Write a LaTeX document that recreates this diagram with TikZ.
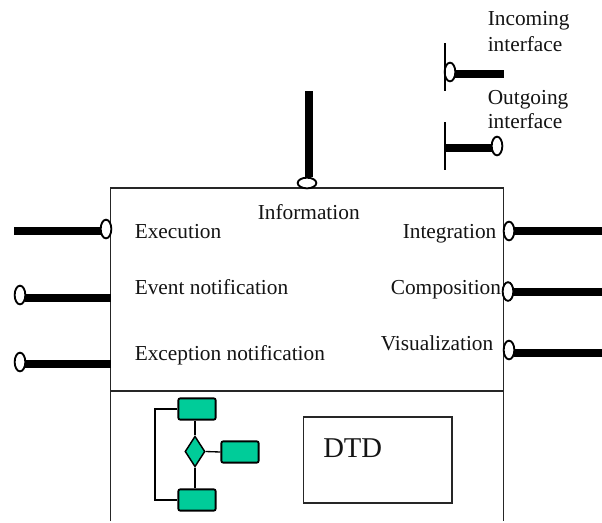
\documentclass[tikz,border=0pt]{standalone}
\usepackage{fontspec}
\setmainfont{Liberation Serif}
\usetikzlibrary{shapes.geometric}
\tikzset{
  x=0.75pt,y=-0.75pt,
  lbl/.style={inner sep=0pt,anchor=base west,font=\fontsize{16pt}{18pt}\selectfont,text=black!92},
  port/.style={draw=black,line width=1.4pt,fill=white,ellipse,inner sep=0pt,minimum width=8pt,minimum height=14pt},
  porth/.style={port,minimum width=14pt,minimum height=8pt},
  bar/.style={line width=5.4pt},
  thin box/.style={draw=black!85,line width=1pt},
  flowbox/.style={draw=black,line width=1.4pt,fill=flowgreen,rounded corners=1.5pt,minimum width=28pt,minimum height=16pt,inner sep=0pt},
  flowdia/.style={draw=black,line width=1.1pt,fill=flowgreen,diamond,aspect=0.66,inner sep=0pt,minimum width=15pt,minimum height=23pt},
  flowline/.style={draw=black,line width=1pt}
}
\definecolor{flowgreen}{RGB}{0,204,153}
\begin{document}
\begin{tikzpicture}
\useasboundingbox (0,0) rectangle (602,522);
\fill[white] (0,0) rectangle (602,522);
% main frame
\coordinate (tl) at (110.5,188);
\coordinate (tr) at (503.5,188);
\coordinate (bl) at (110.5,521);
\coordinate (br) at (503.5,521);
\coordinate (dl) at (110.5,391);
\coordinate (dr) at (503.5,391);
\draw[thin box] (bl) -- (tl) -- (tr) -- (br);
\draw[thin box] (dl) -- (dr);
% ends of bars
\coordinate (topend) at (309,91);
\coordinate (topjoin) at (309,183);
\coordinate (exend) at (14,231);
\coordinate (evend) at (110.5,298);
\coordinate (xcend) at (110.5,364);
\coordinate (inend) at (602,231);
\coordinate (coend) at (602,292);
\coordinate (viend) at (602,353);
\coordinate (lg1end) at (504,74);
\coordinate (lg2end) at (445,148);
\coordinate (lg1a) at (445,43);
\coordinate (lg1b) at (445,91);
\coordinate (lg2a) at (445,122);
\coordinate (lg2b) at (445,170);
% ports
\node[porth] (ptop) at (307,183) {};
\node[port] (pex) at (106,229) {};
\node[port] (pev) at (20,295) {};
\node[port] (pxc) at (20,362) {};
\node[port] (pin) at (509,231) {};
\node[port] (pco) at (508,291.5) {};
\node[port] (pvi) at (509,350) {};
\node[port] (plg1) at (450,72) {};
\node[port] (plg2) at (497,146) {};
% bars
\draw[bar] (topend) -- (topjoin |- ptop.north);
\draw[bar,shorten >=-1pt] (exend) -- (exend -| pex.west);
\draw[bar,shorten <=-1pt] (pev.east |- evend) -- (evend);
\draw[bar,shorten <=-1pt] (pxc.east |- xcend) -- (xcend);
\draw[bar,shorten <=-1pt] (pin.east |- inend) -- (inend);
\draw[bar,shorten <=-1pt] (pco.east |- coend) -- (coend);
\draw[bar,shorten <=-1pt] (pvi.east |- viend) -- (viend);
\draw[bar,shorten <=-1pt] (plg1.east |- lg1end) -- (lg1end);
\draw[bar,shorten >=-1pt] (lg2end) -- (lg2end -| plg2.west);
\draw[line width=1.1pt] (lg1a) -- (lg1b);
\draw[line width=1.1pt] (lg2a) -- (lg2b);
% labels
\node[lbl] (tinfo) at (257.5,219) {Information};
\node[lbl] (texec) at (134.5,238) {Execution};
\node[lbl] (tevent) at (134.5,294) {Event notification};
\node[lbl] (texc) at (134.5,360) {Exception notification};
\node[lbl] (tint) at (402.5,238) {Integration};
\node[lbl] (tcomp) at (390.5,294) {Composition};
\node[lbl] (tvis) at (380.5,350) {Visualization};
\node[lbl] (tinc1) at (487.5,25.5) {Incoming};
\node[lbl] (tinc2) at (487.5,51) {interface};
\node[lbl] (tout1) at (487.5,104) {Outgoing};
\node[lbl] (tout2) at (487.5,128.5) {interface};
% flow fragment
\node[flowbox] (fa) at (197,409) {};
\node[flowbox] (fb) at (240,452) {};
\node[flowbox] (fc) at (197,500) {};
\node[flowdia] (fd) at (195,451.5) {};
\draw[flowline] (fa.south -| fd.north) -- (fd.north);
\draw[flowline] (fd.south) -- (fc.north -| fd.south);
\draw[flowline] (fd.east) -- (fb.west);
\draw[flowline] (fa.west) -| (155,454) |- (fc.west);
% DTD
\node[thin box,minimum width=111.5pt,minimum height=64.5pt,inner sep=0pt] (dtd) at (377.5,460) {};
\node[inner sep=0pt,anchor=base west,font=\fontsize{21.5pt}{24pt}\selectfont,text=black!92] (tdtd) at (323,457) {DTD};
\end{tikzpicture}
\end{document}
